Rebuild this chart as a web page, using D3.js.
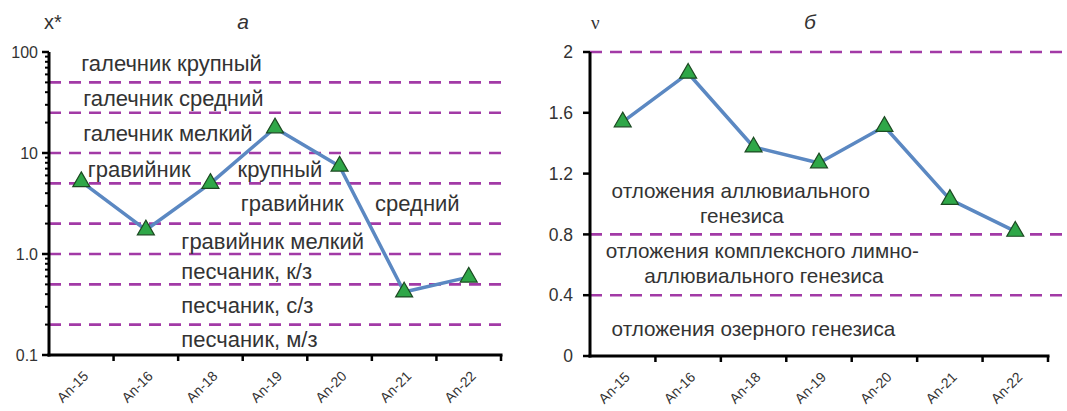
<!DOCTYPE html>
<html>
<head>
<meta charset="utf-8">
<script src="https://cdn.jsdelivr.net/npm/d3@7"></script>
<style>
  html, body { margin: 0; padding: 0; background: #fff; }
  svg { display: block; font-family: "Liberation Sans", Arial, sans-serif; }
</style>
</head>
<body>
<svg id="chart" width="1067" height="411"></svg>
<script>
// Samples (shared by both panels)
const samples = ["An-15", "An-16", "An-18", "An-19", "An-20", "An-21", "An-22"];

// Panel а: x* (log scale)
const xStar = [5.2, 1.73, 5.0, 17.7, 7.4, 0.42, 0.59];
const xStarBounds = [50, 25, 10, 5, 2, 1, 0.5, 0.2];
const xStarTicks = [0.1, 1, 10, 100];
const xStarTickLabels = ["0.1", "1.0", "10", "100"];
const xStarZones = [
  { text: "галечник крупный", x: 0.5, v: 78 },
  { text: "галечник средний", x: 0.53, v: 35 },
  { text: "галечник мелкий", x: 0.53, v: 15.5 },
  { text: "гравийник", x: 0.6, v: 6.9 },
  { text: "крупный", x: 2.92, v: 6.9 },
  { text: "гравийник", x: 2.97, v: 3.2 },
  { text: "средний", x: 5.05, v: 3.2 },
  { text: "гравийник мелкий", x: 2.05, v: 1.33 },
  { text: "песчаник, к/з", x: 2.05, v: 0.68 },
  { text: "песчаник, с/з", x: 2.05, v: 0.31 },
  { text: "песчаник, м/з", x: 2.05, v: 0.142 }
];

// Panel б: ν
const nu = [1.54, 1.86, 1.375, 1.27, 1.51, 1.03, 0.82];
const nuBounds = [2, 0.8, 0.4];
const nuTicks = [0, 0.4, 0.8, 1.2, 1.6, 2];
const nuTickLabels = ["0", "0.4", "0.8", "1.2", "1.6", "2"];
const nuZones = [
  { text: "отложения аллювиального", x: 0.33, v: 1.09 },
  { text: "генезиса", x: 1.68, v: 0.925 },
  { text: "отложения комплексного лимно-", x: 0.24, v: 0.695 },
  { text: "аллювиального генезиса", x: 0.83, v: 0.525 },
  { text: "отложения озерного генезиса", x: 0.33, v: 0.18 }
];

const C = {
  line: "#5b88c2",
  marker: "#2fa748",
  markerStroke: "#1c4a22",
  bound: "#a23aa6",
  text: "#333333",
  axis: "#000000"
};

const svg = d3.select("#chart");

function drawPanel(opt) {
  const g = svg.append("g");
  const x = d3.scaleBand().domain(samples).range([opt.left, opt.right]).padding(0);
  const y = opt.y;

  // boundary lines
  g.selectAll("line.bound").data(opt.bounds).join("line")
    .attr("class", "bound")
    .attr("x1", opt.left).attr("x2", opt.boundRight)
    .attr("y1", d => y(d)).attr("y2", d => y(d))
    .attr("stroke", C.bound).attr("stroke-width", 2.6)
    .attr("stroke-dasharray", "12,8");

  // zone labels
  g.selectAll("text.zone").data(opt.zones).join("text")
    .attr("class", "zone")
    .attr("x", d => opt.left + d.x * x.bandwidth())
    .attr("y", d => y(d.v))
    .attr("dy", "0.35em")
    .attr("font-size", opt.zoneSize)
    .attr("fill", C.text)
    .text(d => d.text);

  // x axis
  const xAxis = g.append("g")
    .attr("transform", `translate(0,${opt.bottom})`);
  xAxis.append("line")
    .attr("x1", opt.left - 1.5).attr("x2", opt.right + 1.5)
    .attr("stroke", C.axis).attr("stroke-width", 3);
  const edges = d3.range(samples.length + 1).map(i => opt.left + i * x.bandwidth());
  xAxis.selectAll("line.tk").data(edges.slice(1)).join("line")
    .attr("class", "tk")
    .attr("x1", d => d).attr("x2", d => d)
    .attr("y1", 0).attr("y2", 6)
    .attr("stroke", C.axis).attr("stroke-width", 2.5);
  xAxis.selectAll("text").data(samples).join("text")
    .attr("transform", d => `translate(${x(d) + x.bandwidth() / 2 + 8},${22}) rotate(-45)`)
    .attr("text-anchor", "end")
    .attr("font-size", 14)
    .attr("fill", C.text)
    .text(d => d);

  // y axis
  const yAxis = g.append("g").attr("transform", `translate(${opt.left},0)`);
  yAxis.append("line")
    .attr("y1", opt.top).attr("y2", opt.bottom + 1.5)
    .attr("stroke", C.axis).attr("stroke-width", 3);
  if (opt.minor) {
    yAxis.selectAll("line.minor").data(opt.minor).join("line")
      .attr("class", "minor")
      .attr("x1", -4).attr("x2", 0)
      .attr("y1", d => y(d)).attr("y2", d => y(d))
      .attr("stroke", C.axis).attr("stroke-width", 2);
  }
  yAxis.selectAll("line.major").data(opt.ticks).join("line")
    .attr("class", "major")
    .attr("x1", -7).attr("x2", 0)
    .attr("y1", d => y(d)).attr("y2", d => y(d))
    .attr("stroke", C.axis).attr("stroke-width", 2.5);
  yAxis.selectAll("text").data(opt.ticks).join("text")
    .attr("x", opt.tickLabelDx).attr("y", d => y(d))
    .attr("dy", "0.35em")
    .attr("text-anchor", "end")
    .attr("font-size", opt.tickSize)
    .attr("fill", C.text)
    .text((d, i) => opt.tickLabels[i]);

  // axis name and panel letter
  g.append("text")
    .attr("x", opt.nameX).attr("y", 29)
    .attr("font-size", opt.nameSize)
    .attr("font-family", opt.nameFont)
    .attr("fill", C.text)
    .text(opt.name);
  g.append("text")
    .attr("x", opt.letterX).attr("y", 29)
    .attr("text-anchor", "middle")
    .attr("font-size", 21).attr("font-style", "italic")
    .attr("fill", C.text)
    .text(opt.letter);

  // series line
  const cx = d => x(d) + x.bandwidth() / 2;
  g.append("path")
    .datum(opt.values)
    .attr("fill", "none")
    .attr("stroke", C.line).attr("stroke-width", 3.5)
    .attr("stroke-linejoin", "round")
    .attr("d", d3.line().x((d, i) => cx(samples[i])).y(d => y(d)));

  // triangle markers
  const tri = d3.symbol().type(d3.symbolTriangle).size(125);
  g.selectAll("path.mk").data(opt.values).join("path")
    .attr("class", "mk")
    .attr("transform", (d, i) => `translate(${cx(samples[i])},${y(d)})`)
    .attr("d", tri)
    .attr("fill", C.marker)
    .attr("stroke", C.markerStroke).attr("stroke-width", 1.2);
}

// Panel а
const minorLog = [];
[0.1, 1, 10].forEach(dec => { for (let k = 2; k <= 9; k++) minorLog.push(dec * k); });
drawPanel({
  left: 49, right: 501, bottom: 355, top: 52, boundRight: 503,
  y: d3.scaleLog().domain([0.1, 100]).range([355, 52]),
  values: xStar, bounds: xStarBounds, zones: xStarZones, zoneSize: 22,
  ticks: xStarTicks, tickLabels: xStarTickLabels, minor: minorLog,
  tickLabelDx: -11, tickSize: 16,
  name: "x*", nameX: 44, nameSize: 20, nameFont: "Liberation Sans, Arial, sans-serif",
  letter: "а", letterX: 243
});

// Panel б
drawPanel({
  left: 590, right: 1048, bottom: 356, top: 52, boundRight: 1067,
  y: d3.scaleLinear().domain([0, 2]).range([356, 52]),
  values: nu, bounds: nuBounds, zones: nuZones, zoneSize: 20.7,
  ticks: nuTicks, tickLabels: nuTickLabels, minor: null,
  tickLabelDx: -17, tickSize: 17.5,
  name: "ν", nameX: 591, nameSize: 19, nameFont: "Liberation Serif, Times New Roman, serif",
  letter: "б", letterX: 810
});
</script>
</body>
</html>
